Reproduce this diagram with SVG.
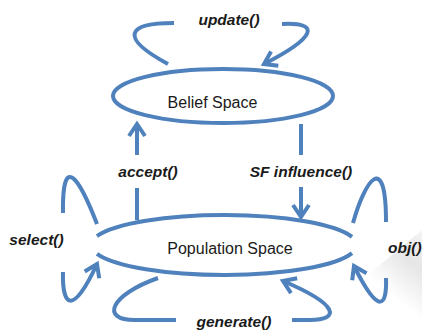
<svg xmlns="http://www.w3.org/2000/svg" width="422" height="331" viewBox="0 0 422 331">
<defs>
<style>
.ln{fill:none;stroke:#4F81BD;stroke-width:4;stroke-linecap:butt;stroke-linejoin:miter}
.lbl{font-family:"Liberation Sans",Arial,sans-serif;font-size:15.5px;font-weight:bold;font-style:italic;fill:#1a1a1a}
.nm{font-family:"Liberation Sans",Arial,sans-serif;font-size:16px;fill:#1a1a1a}
</style>
<marker id="ah" markerUnits="userSpaceOnUse" markerWidth="30" markerHeight="30" viewBox="-15 -15 30 30" refX="0" refY="0" orient="auto">
<path d="M-12,-8 L0,0 L-12,8" fill="none" stroke="#4F81BD" stroke-width="4"/>
</marker>
<linearGradient id="sh" x1="0" y1="1" x2="1" y2="0">
<stop offset="0.55" stop-color="#ffffff"/>
<stop offset="0.8" stop-color="#e6e6e6"/>
<stop offset="1" stop-color="#f4f4f4"/>
</linearGradient>
</defs>
<rect width="422" height="331" fill="#ffffff"/>
<polygon points="422,230 422,331 300,331" fill="url(#sh)"/>

<g id="connectors">
<path class="ln" d="M174,23 C125,23 120,38 168,64"/>
<path class="ln" d="M282,24 C322,22 315,38 264,64" marker-end="url(#ah)"/>
<path class="ln" d="M137,155 L137,124" marker-end="url(#ah)"/>
<path class="ln" d="M137,188 L137,220"/>
<path class="ln" d="M301,124 L301,155"/>
<path class="ln" d="M301,187 L301,217" marker-end="url(#ah)"/>
<path class="ln" d="M97,224 C80,180 62,150 63,213"/>
<path class="ln" d="M63,272 C62,305 72,318 97,264" marker-end="url(#ah)"/>
<path class="ln" d="M353,223 C365,180 386,150 386,222"/>
<path class="ln" d="M386,278 C387,305 380,318 354,266" marker-end="url(#ah)"/>
<path class="ln" d="M158,278 C110,295 100,320 135,320 L176,320"/>
<path class="ln" d="M292,320 L310,320 C340,320 340,305 283,281" marker-end="url(#ah)"/>
</g>

<g id="belief-space">
<ellipse class="ln" cx="223" cy="96" rx="110" ry="27"/>
<text class="nm" x="212.5" y="108" text-anchor="middle">Belief Space</text>
</g>

<g id="population-space">
<path class="ln" d="M97,236.1 A133,30 0 0 1 352,236.9"/>
<path class="ln" d="M97,253.9 A133,30 0 0 0 352,253.1"/>
<text class="nm" x="230" y="254" text-anchor="middle">Population Space</text>
</g>

<g id="labels">
<text class="lbl" x="229" y="25" text-anchor="middle">update()</text>
<text class="lbl" x="148" y="177" text-anchor="middle">accept()</text>
<text class="lbl" x="301" y="177" text-anchor="middle">SF influence()</text>
<text class="lbl" x="36.5" y="245" text-anchor="middle">select()</text>
<text class="lbl" x="388" y="253">obj()</text>
<text class="lbl" x="234" y="327" text-anchor="middle">generate()</text>
</g>
</svg>
